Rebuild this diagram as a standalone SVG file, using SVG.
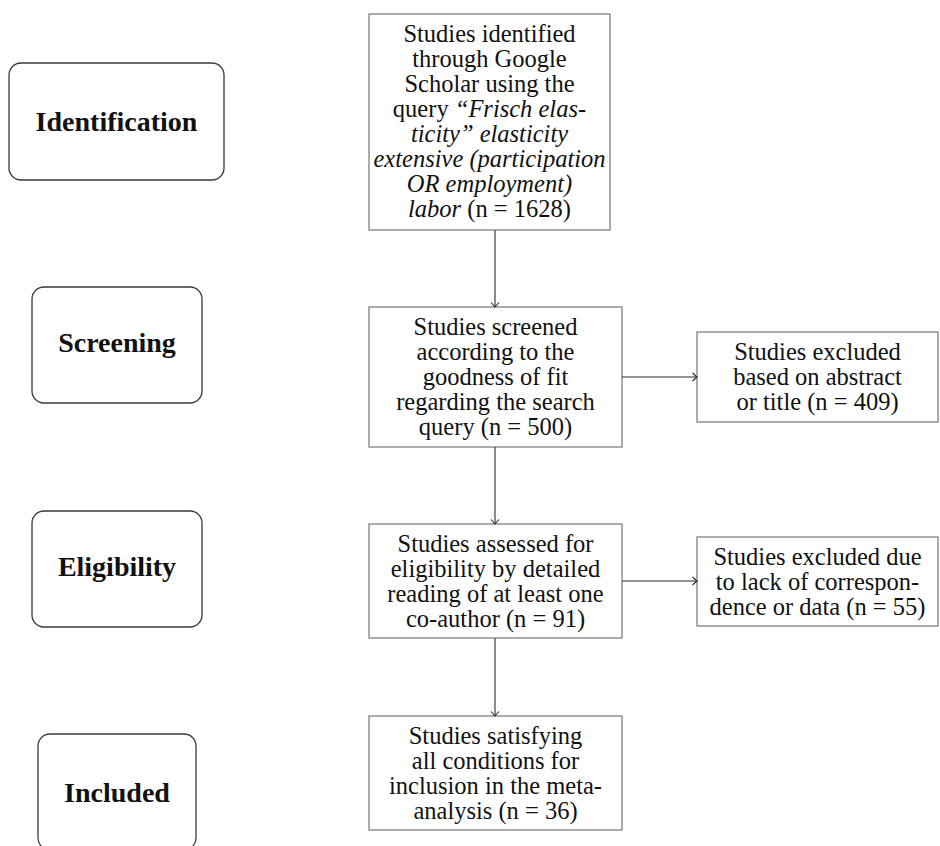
<svg xmlns="http://www.w3.org/2000/svg" width="940" height="846" viewBox="0 0 940 846">
<style>
  .bg { fill: #ffffff; }
  .stage { fill: #ffffff; stroke: #3a3a3a; stroke-width: 1.3; }
  .box { fill: #ffffff; stroke: #808080; stroke-width: 1.3; }
  .lbl { font-weight: bold; font-size: 28px; fill: #111; text-anchor: middle; }
  .txt { font-size: 24.5px; fill: #111; text-anchor: middle; }
  .it { font-style: italic; }
  .conn { stroke: #2a2a2a; stroke-width: 1.1; fill: none; }
</style>
<defs>
  <marker id="arr" markerUnits="userSpaceOnUse" markerWidth="12" markerHeight="12" viewBox="-6 -6 12 12" refX="0" refY="0" orient="auto">
    <path d="M -4.5,-4 Q -1.2,-1 0,0 Q -1.2,1 -4.5,4" fill="none" stroke="#2a2a2a" stroke-width="1.1"/>
  </marker>
</defs>
<rect class="bg" x="0" y="0" width="940" height="846"/>

<g font-family="'Liberation Serif', 'Times New Roman', 'DejaVu Serif', serif">
<g id="stage-identification">
  <rect class="stage" x="9" y="63" width="215" height="117" rx="12" ry="12"/>
  <text class="lbl" x="116.5" y="131">Identification</text>
</g>
<g id="stage-screening">
  <rect class="stage" x="32" y="287" width="170" height="116" rx="12" ry="12"/>
  <text class="lbl" x="117" y="352">Screening</text>
</g>
<g id="stage-eligibility">
  <rect class="stage" x="32" y="511" width="170" height="116" rx="12" ry="12"/>
  <text class="lbl" x="117" y="576">Eligibility</text>
</g>
<g id="stage-included">
  <rect class="stage" x="38" y="734" width="158" height="116" rx="12" ry="12"/>
  <text class="lbl" x="117" y="802">Included</text>
</g>

<g id="node-identified">
  <rect class="box" x="369" y="14" width="241" height="216"/>
  <text class="txt" x="489.5" y="42">Studies identified</text>
  <text class="txt" x="489.5" y="67">through Google</text>
  <text class="txt" x="489.5" y="92">Scholar using the</text>
  <text class="txt" x="489.5" y="117">query <tspan class="it">“Frisch elas-</tspan></text>
  <text class="txt it" x="489.5" y="142">ticity” elasticity</text>
  <text class="txt it" x="489.5" y="167">extensive (participation</text>
  <text class="txt it" x="489.5" y="192">OR employment)</text>
  <text class="txt" x="489.5" y="217"><tspan class="it">labor</tspan> (n = 1628)</text>
</g>

<g id="node-screened">
  <rect class="box" x="369" y="307" width="253" height="140"/>
  <text class="txt" x="495.5" y="335">Studies screened</text>
  <text class="txt" x="495.5" y="360">according to the</text>
  <text class="txt" x="495.5" y="385">goodness of fit</text>
  <text class="txt" x="495.5" y="410">regarding the search</text>
  <text class="txt" x="495.5" y="435">query (n = 500)</text>
</g>

<g id="node-excluded-abstract">
  <rect class="box" x="697" y="332" width="241" height="90"/>
  <text class="txt" x="817.5" y="360">Studies excluded</text>
  <text class="txt" x="817.5" y="385">based on abstract</text>
  <text class="txt" x="817.5" y="410">or title (n = 409)</text>
</g>

<g id="node-assessed">
  <rect class="box" x="369" y="524" width="253" height="114"/>
  <text class="txt" x="495.5" y="551.5">Studies assessed for</text>
  <text class="txt" x="495.5" y="576.5">eligibility by detailed</text>
  <text class="txt" x="495.5" y="601.5">reading of at least one</text>
  <text class="txt" x="495.5" y="626.5">co-author (n = 91)</text>
</g>

<g id="node-excluded-data">
  <rect class="box" x="697" y="537" width="241" height="89"/>
  <text class="txt" x="817.5" y="564.5">Studies excluded due</text>
  <text class="txt" x="817.5" y="589.5">to lack of correspon-</text>
  <text class="txt" x="817.5" y="614.5">dence or data (n = 55)</text>
</g>

<g id="node-included">
  <rect class="box" x="369" y="716" width="253" height="114"/>
  <text class="txt" x="495.5" y="743.5">Studies satisfying</text>
  <text class="txt" x="495.5" y="768.5">all conditions for</text>
  <text class="txt" x="495.5" y="793.5">inclusion in the meta-</text>
  <text class="txt" x="495.5" y="818.5">analysis (n = 36)</text>
</g>
</g>

<g id="connectors">
  <line class="conn" x1="495" y1="230" x2="495" y2="307" marker-end="url(#arr)"/>
  <line class="conn" x1="495" y1="447" x2="495" y2="524" marker-end="url(#arr)"/>
  <line class="conn" x1="495" y1="638" x2="495" y2="716" marker-end="url(#arr)"/>
  <line class="conn" x1="622" y1="377" x2="697" y2="377" marker-end="url(#arr)"/>
  <line class="conn" x1="622" y1="581" x2="697" y2="581" marker-end="url(#arr)"/>
</g>
</svg>
